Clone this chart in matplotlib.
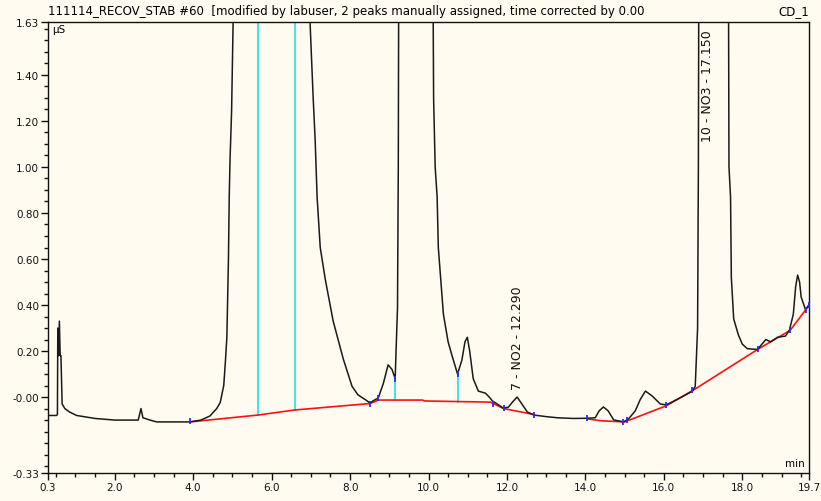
import numpy as np
import matplotlib
matplotlib.use("Agg")
import matplotlib.pyplot as plt
from matplotlib.ticker import FixedLocator, MultipleLocator

# chromatogram trace (time in min, signal in uS); off-scale tops go above the axis
trace_t = [0.30, 0.52, 0.54, 0.55, 0.57, 0.59, 0.61, 0.63, 0.66, 0.73, 0.85, 1.03, 1.50, 2.00,
           2.60, 2.67, 2.72, 2.90, 3.07, 3.92, 4.20, 4.43, 4.60, 4.69, 4.78, 4.82, 4.86, 4.90,
           4.92, 4.94, 4.98, 5.02, 5.10, 6.00, 6.90, 6.98, 7.06, 7.11, 7.16, 7.24, 7.37, 7.57,
           7.83, 8.05, 8.20, 8.44, 8.51, 8.60, 8.72, 8.85, 8.97, 9.07, 9.15, 9.21, 9.23, 9.25,
           9.70, 10.08, 10.12, 10.13, 10.17, 10.22, 10.25, 10.38, 10.50, 10.60, 10.74, 10.85,
           10.93, 10.99, 11.05, 11.14, 11.27, 11.45, 11.55, 11.63, 11.75, 11.90, 12.03, 12.15,
           12.26, 12.40, 12.52, 12.68, 13.00, 13.29, 13.70, 14.05, 14.25, 14.35, 14.46, 14.58,
           14.72, 14.97, 15.10, 15.27, 15.40, 15.53, 15.70, 15.91, 16.06, 16.40, 16.73, 16.80,
           16.86, 16.88, 16.90, 17.20, 17.60, 17.65, 17.66, 17.70, 17.72, 17.78, 17.90, 18.00,
           18.13, 18.39, 18.50, 18.60, 18.72, 18.90, 19.10, 19.20, 19.30, 19.36, 19.41, 19.46,
           19.50, 19.61, 19.70]
trace_s = [-0.080, -0.080, -0.075, 0.300, 0.180, 0.330, 0.180, 0.180, -0.030, -0.050, -0.065,
           -0.080, -0.093, -0.100, -0.100, -0.050, -0.090, -0.100, -0.108, -0.108, -0.100,
           -0.082, -0.050, -0.024, 0.050, 0.148, 0.260, 0.600, 0.870, 1.030, 1.240, 1.630,
           2.500, 3.500, 2.200, 1.630, 1.300, 1.120, 0.870, 0.650, 0.510, 0.330, 0.164, 0.047,
           0.010, -0.017, -0.026, -0.015, -0.004, 0.060, 0.140, 0.120, 0.080, 0.390, 1.000,
           2.500, 3.500, 2.200, 1.630, 1.300, 1.000, 0.870, 0.650, 0.360, 0.240, 0.180, 0.100,
           0.160, 0.240, 0.260, 0.200, 0.080, 0.026, 0.017, 0.000, -0.017, -0.030, -0.047,
           -0.045, -0.020, 0.000, -0.035, -0.065, -0.078, -0.085, -0.090, -0.093, -0.092,
           -0.090, -0.060, -0.043, -0.060, -0.099, -0.108, -0.095, -0.060, -0.010, 0.026,
           0.005, -0.030, -0.034, -0.005, 0.026, 0.047, 0.300, 1.000, 2.500, 3.500, 2.500,
           1.630, 1.000, 0.870, 0.520, 0.340, 0.270, 0.230, 0.210, 0.207, 0.230, 0.250, 0.240,
           0.260, 0.265, 0.290, 0.360, 0.480, 0.530, 0.500, 0.435, 0.380, 0.400]

# integration baselines (red)
base1_t = [3.92, 5.66, 6.60, 8.51, 8.72, 9.85, 9.90, 11.58, 11.91, 12.67]
base1_s = [-0.108, -0.078, -0.056, -0.028, -0.013, -0.013, -0.017, -0.022, -0.050, -0.075]
base2_t = [14.05, 14.40, 15.00, 16.06, 16.75, 18.39, 19.22, 19.62, 19.70]
base2_s = [-0.095, -0.103, -0.108, -0.038, 0.030, 0.207, 0.290, 0.380, 0.400]

# peak delimiters (blue ticks)
delim_t = [3.92, 8.51, 8.72, 9.15, 10.74, 11.65, 11.93, 12.70, 14.05, 14.97, 15.05,
           16.06, 16.73, 18.39, 19.22, 19.62, 19.70]
delim_s = [-0.105, -0.030, -0.004, 0.080, 0.100, -0.030, -0.048, -0.080, -0.092, -0.110,
           -0.100, -0.036, 0.030, 0.207, 0.290, 0.380, 0.400]

# drop lines (cyan): time, bottom, top
drop_t = [5.66, 6.60, 9.15, 10.74]
drop_lo = [-0.078, -0.056, -0.013, -0.020]
drop_hi = [2.0, 2.0, 0.080, 0.100]

peak_names = ["7 - NO2 - 12.290", "10 - NO3 - 17.150"]
peak_t = [12.28, 17.10]
peak_lbl_s = [0.035, 1.115]

xticks = [0.3, 2.0, 4.0, 6.0, 8.0, 10.0, 12.0, 14.0, 16.0, 18.0, 19.7]
yticks = [-0.33, 0.0, 0.2, 0.4, 0.6, 0.8, 1.0, 1.2, 1.4, 1.63]
ylabels = ["-0.33", "-0.00", "0.20", "0.40", "0.60", "0.80", "1.00", "1.20", "1.40", "1.63"]

bg = "#fffbf1"
fig = plt.figure(figsize=(8.21, 5.02), dpi=100, facecolor=bg)
ax = fig.add_axes([48/821, 28/502, 761/821, 451/502], facecolor=bg)

for t, lo, hi in zip(drop_t, drop_lo, drop_hi):
    ax.plot([t, t], [lo, hi], color="#22e0e0", lw=1.2, zorder=2)
ax.plot(base1_t, base1_s, color="#ff1010", lw=1.2, zorder=3)
ax.plot(base2_t, base2_s, color="#ff1010", lw=1.2, zorder=3)
ax.plot(trace_t, trace_s, color="#1a1a1a", lw=1.1, zorder=4)
ax.plot(delim_t, delim_s, ls="none", marker="|", ms=5, mew=1.3, color="#2a2aff", zorder=5)

for name, t, s in zip(peak_names, peak_t, peak_lbl_s):
    ax.text(t, s, name, rotation=90, ha="center", va="bottom", fontsize=9,
            family="DejaVu Sans", color="#111111", zorder=6)

ax.set_xlim(0.3, 19.7)
ax.set_ylim(-0.33, 1.63)
ax.xaxis.set_major_locator(FixedLocator(xticks))
ax.xaxis.set_minor_locator(MultipleLocator(0.5))
ax.yaxis.set_major_locator(FixedLocator(yticks))
ax.yaxis.set_minor_locator(MultipleLocator(0.05))
ax.set_xticklabels([f"{v:.1f}" for v in xticks])
ax.set_yticklabels(ylabels)
ax.tick_params(which="major", length=5, width=1, labelsize=7.5, pad=1.5, colors="#111111")
ax.tick_params(which="minor", length=3, width=1, colors="#111111")
for sp in ax.spines.values():
    sp.set_linewidth(1)
    sp.set_color("#111111")

ax.text(0.005, 0.995, "µS", transform=ax.transAxes, ha="left", va="top", fontsize=7.5)
ax.text(0.995, 0.01, "min", transform=ax.transAxes, ha="right", va="bottom", fontsize=7.5)

fig.text(48/821, 1 - 12/502, "111114_RECOV_STAB #60  [modified by labuser, 2 peaks manually assigned, time corrected by 0.00",
         ha="left", va="center", fontsize=8.5)
fig.text(809/821, 1 - 12/502, "CD_1", ha="right", va="center", fontsize=8.5)

fig.savefig("out.png", dpi=100, facecolor=bg)
